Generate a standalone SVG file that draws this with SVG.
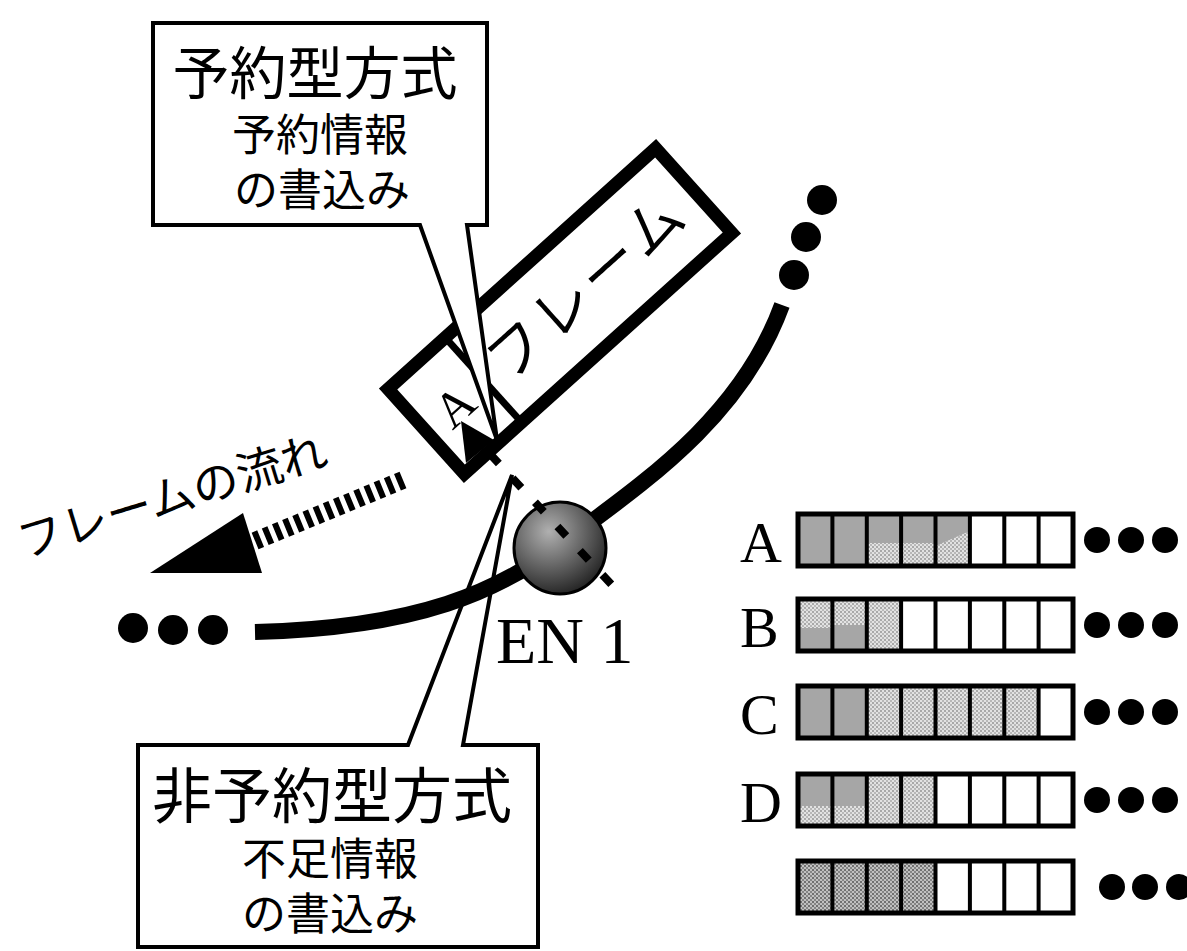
<svg xmlns="http://www.w3.org/2000/svg" width="1187" height="951" viewBox="0 0 1187 951">
<style>
.ln{stroke:#000;fill:none}
.cj{font-family:"Noto Sans CJK JP",sans-serif;fill:#000}
.sr{font-family:"Liberation Serif",serif;fill:#000}
.gr{fill:#a6a6a6}
.lt{fill:url(#ltp)}
.dk{fill:url(#dkp)}
.cell{stroke:#000;stroke-width:4;fill:none}
.dot{fill:#000}
</style>
<defs>
<pattern id="ltp" width="4" height="4" patternUnits="userSpaceOnUse"><rect width="4" height="4" fill="#e2e2e2"/><rect width="2" height="2" fill="#a8a8a8"/><rect x="2" y="2" width="2" height="2" fill="#b8b8b8"/></pattern>
<pattern id="dkp" width="4" height="4" patternUnits="userSpaceOnUse"><rect width="4" height="4" fill="#c0c0c0"/><rect width="2" height="2" fill="#707070"/><rect x="2" y="2" width="2" height="2" fill="#858585"/></pattern>
<radialGradient id="ballg" cx="0.38" cy="0.32" r="0.75">
<stop offset="0" stop-color="#b0b0b0"/>
<stop offset="0.5" stop-color="#666"/>
<stop offset="1" stop-color="#1c1c1c"/>
</radialGradient>
</defs>
<rect width="1187" height="951" fill="#fff"/>

<g id="frame" transform="translate(560,311) rotate(-42)">
<rect x="-180" y="-57" width="360" height="114" fill="#fff" stroke="#000" stroke-width="13"/>
<line x1="-103" y1="-57" x2="-103" y2="57" stroke="#000" stroke-width="7"/>
<text class="sr" x="-142" y="17" font-size="50" text-anchor="middle">A</text>
<text class="cj" x="36" y="20" font-size="58" text-anchor="middle" letter-spacing="4">フレーム</text>
</g>

<g id="connectors">
<path class="ln" d="M255,632 C420,628 500,590 560,545 C640,485 740,420 782,305" stroke-width="16"/>
<path class="ln" d="M403,480 L255,541" stroke-width="18" stroke-dasharray="6 5"/>
<polygon points="150,573 243,513 262,573" fill="#000"/>
</g>

<g id="dots-left">
<circle class="dot" cx="133" cy="628" r="15"/>
<circle class="dot" cx="173" cy="630" r="15"/>
<circle class="dot" cx="213" cy="630" r="15"/>
</g>
<g id="dots-top">
<circle class="dot" cx="822" cy="200" r="15"/>
<circle class="dot" cx="806" cy="237" r="15"/>
<circle class="dot" cx="794" cy="275" r="15"/>
</g>

<g id="flow-label">
<text class="cj" font-size="46" text-anchor="middle" transform="translate(177,512) rotate(-17)">フレームの流れ</text>
</g>

<g id="EN1">
<circle cx="560" cy="548" r="46" fill="url(#ballg)" stroke="#000" stroke-width="3"/>
<text class="sr" x="496" y="663" font-size="66">EN 1</text>
</g>

<g id="callout-reserve">
<polygon points="153,23 487,23 487,225 467,225 497,440 420,225 153,225" fill="#fff" stroke="#000" stroke-width="4" stroke-linejoin="miter"/>
<text class="cj" x="315" y="94" font-size="57" text-anchor="middle">予約型方式</text>
<text class="cj" x="320" y="151" font-size="44" text-anchor="middle">予約情報</text>
<text class="cj" x="322" y="206" font-size="44" text-anchor="middle">の書込み</text>
</g>

<g id="write-arrow">
<line x1="490" y1="454" x2="624" y2="598" stroke="#000" stroke-width="8" stroke-dasharray="13 20"/>
<polygon points="461,421 466,463 494,440" fill="#000"/>
</g>

<g id="callout-nonreserve">
<rect x="138" y="745" width="400" height="202" fill="#fff"/>
<path class="ln" d="M408,745 L512,475 L463,745 L538,745 L538,947 L138,947 L138,745 Z" stroke-width="4"/>
<text class="cj" x="332" y="818" font-size="60" text-anchor="middle">非予約型方式</text>
<text class="cj" x="330" y="875" font-size="44" text-anchor="middle">不足情報</text>
<text class="cj" x="330" y="930" font-size="44" text-anchor="middle">の書込み</text>
</g>

<g id="row-A" transform="translate(0,514)">
<text class="sr" x="740" y="48" font-size="58">A</text>
<rect class="gr" x="798" y="0" width="172" height="52"/>
<rect class="lt" x="866.8" y="29" width="68.7" height="23"/>
<polygon class="lt" points="935.5,32 969.9,17 969.9,52 935.5,52"/>
<rect x="798" y="0" width="275" height="52" fill="none" stroke="#000" stroke-width="5"/>
<path class="cell" d="M832.4,0V52M866.8,0V52M901.1,0V52M935.5,0V52M969.9,0V52M1004.3,0V52M1038.6,0V52"/>
<circle class="dot" cx="1097" cy="26" r="13"/><circle class="dot" cx="1131" cy="26" r="13"/><circle class="dot" cx="1165" cy="26" r="13"/>
</g>

<g id="row-B" transform="translate(0,599)">
<text class="sr" x="740" y="48" font-size="58">B</text>
<rect class="lt" x="798" y="0" width="103.1" height="52"/>
<rect class="gr" x="798" y="29" width="34.4" height="23"/>
<rect class="gr" x="832.4" y="26" width="34.4" height="26"/>
<rect x="798" y="0" width="275" height="52" fill="none" stroke="#000" stroke-width="5"/>
<path class="cell" d="M832.4,0V52M866.8,0V52M901.1,0V52M935.5,0V52M969.9,0V52M1004.3,0V52M1038.6,0V52"/>
<circle class="dot" cx="1097" cy="26" r="13"/><circle class="dot" cx="1131" cy="26" r="13"/><circle class="dot" cx="1165" cy="26" r="13"/>
</g>

<g id="row-C" transform="translate(0,686)">
<text class="sr" x="740" y="48" font-size="58">C</text>
<rect class="gr" x="798" y="0" width="68.8" height="52"/>
<rect class="lt" x="866.8" y="0" width="171.8" height="52"/>
<rect x="798" y="0" width="275" height="52" fill="none" stroke="#000" stroke-width="5"/>
<path class="cell" d="M832.4,0V52M866.8,0V52M901.1,0V52M935.5,0V52M969.9,0V52M1004.3,0V52M1038.6,0V52"/>
<circle class="dot" cx="1097" cy="26" r="13"/><circle class="dot" cx="1131" cy="26" r="13"/><circle class="dot" cx="1165" cy="26" r="13"/>
</g>

<g id="row-D" transform="translate(0,774)">
<text class="sr" x="740" y="48" font-size="58">D</text>
<rect class="gr" x="798" y="0" width="68.8" height="52"/>
<rect class="lt" x="798" y="32" width="68.8" height="20"/>
<rect class="lt" x="866.8" y="0" width="68.7" height="52"/>
<rect x="798" y="0" width="275" height="52" fill="none" stroke="#000" stroke-width="5"/>
<path class="cell" d="M832.4,0V52M866.8,0V52M901.1,0V52M935.5,0V52M969.9,0V52M1004.3,0V52M1038.6,0V52"/>
<circle class="dot" cx="1097" cy="26" r="13"/><circle class="dot" cx="1131" cy="26" r="13"/><circle class="dot" cx="1165" cy="26" r="13"/>
</g>

<g id="row-E" transform="translate(0,861)">
<rect class="dk" x="798" y="0" width="137.5" height="52"/>
<rect x="798" y="0" width="275" height="52" fill="none" stroke="#000" stroke-width="5"/>
<path class="cell" d="M832.4,0V52M866.8,0V52M901.1,0V52M935.5,0V52M969.9,0V52M1004.3,0V52M1038.6,0V52"/>
<circle class="dot" cx="1112" cy="26" r="13"/><circle class="dot" cx="1145" cy="26" r="13"/><circle class="dot" cx="1179" cy="26" r="13"/>
</g>
</svg>
